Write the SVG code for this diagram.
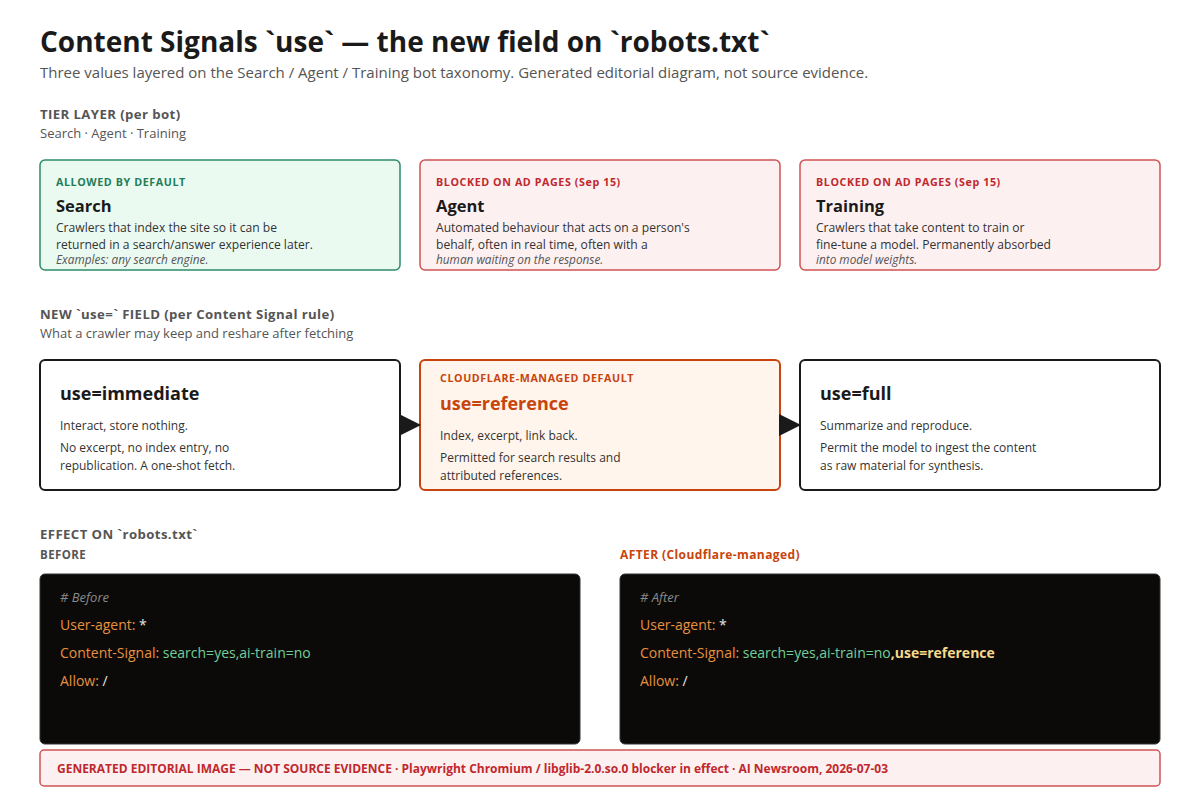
<svg xmlns="http://www.w3.org/2000/svg" width="1200" height="800" viewBox="0 0 1200 800">
<style>
text{font-family:"Open Sans","Noto Sans","Liberation Sans",sans-serif;}
.title{font-size:28px;font-weight:700;fill:#1a1a1a;}
.sub{font-size:15px;fill:#555;}
.sec{font-size:13.2px;font-weight:700;fill:#555;letter-spacing:0.4px;}
.secsub{font-size:13px;fill:#555;}
.lab{font-size:10.7px;font-weight:700;letter-spacing:0.6px;}
.ct{font-size:16.5px;font-weight:700;fill:#1a1a1a;}
.body{font-size:12.1px;fill:#333;}
.ital{font-size:11.8px;font-style:italic;fill:#555;}
.ut{font-size:18px;font-weight:700;fill:#1a1a1a;}
.ub{font-size:12px;fill:#333;}
.code{font-size:14px;fill:#e5e5e5;}
.k{fill:#e8913e;}
.g{fill:#73cf97;}
.y{fill:#f6d98a;font-weight:700;}
.cm{fill:#8a8a8a;font-style:italic;font-size:13px;}
.green{fill:#ebfaf1;stroke:#2e8b6a;stroke-width:1.5;}
.red{fill:#fdf0f1;stroke:#cf5353;stroke-width:1.5;}
.plain{fill:#fff;stroke:#1a1a1a;stroke-width:2;}
.orange{fill:#fff5ec;stroke:#c8440c;stroke-width:2;}
.dark{fill:#0b0a09;stroke:#333;stroke-width:1;}
</style>
<rect width="1200" height="800" fill="#fff"/>
<text class="title" x="40" y="52">Content Signals `use` — the new field on `robots.txt`</text>
<text class="sub" x="40" y="78">Three values layered on the Search / Agent / Training bot taxonomy. Generated editorial diagram, not source evidence.</text>

<text class="sec" x="40" y="119">TIER LAYER (per bot)</text>
<text class="secsub" x="40" y="138">Search · Agent · Training</text>

<g id="tier-search">
<rect class="green" x="40" y="160" width="360" height="110" rx="5"/>
<text class="lab" x="56" y="186" fill="#1f7d57">ALLOWED BY DEFAULT</text>
<text class="ct" x="56" y="212">Search</text>
<text class="body" x="56" y="232">Crawlers that index the site so it can be</text>
<text class="body" x="56" y="249">returned in a search/answer experience later.</text>
<text class="ital" x="56" y="264">Examples: any search engine.</text>
</g>
<g id="tier-agent">
<rect class="red" x="420" y="160" width="360" height="110" rx="5"/>
<text class="lab" x="436" y="186" fill="#c0282d">BLOCKED ON AD PAGES (Sep 15)</text>
<text class="ct" x="436" y="212">Agent</text>
<text class="body" x="436" y="232">Automated behaviour that acts on a person's</text>
<text class="body" x="436" y="249">behalf, often in real time, often with a</text>
<text class="ital" x="436" y="264">human waiting on the response.</text>
</g>
<g id="tier-training">
<rect class="red" x="800" y="160" width="360" height="110" rx="5"/>
<text class="lab" x="816" y="186" fill="#c0282d">BLOCKED ON AD PAGES (Sep 15)</text>
<text class="ct" x="816" y="212">Training</text>
<text class="body" x="816" y="232">Crawlers that take content to train or</text>
<text class="body" x="816" y="249">fine-tune a model. Permanently absorbed</text>
<text class="ital" x="816" y="264">into model weights.</text>
</g>

<text class="sec" x="40" y="319">NEW `use=` FIELD (per Content Signal rule)</text>
<text class="secsub" x="40" y="338">What a crawler may keep and reshare after fetching</text>

<g id="use-immediate">
<rect class="plain" x="40" y="360" width="360" height="130" rx="5"/>
<text class="ut" x="60" y="400">use=immediate</text>
<text class="ub" x="60" y="430">Interact, store nothing.</text>
<text class="ub" x="60" y="452">No excerpt, no index entry, no</text>
<text class="ub" x="60" y="470">republication. A one-shot fetch.</text>
</g>
<g id="use-reference">
<rect class="orange" x="420" y="360" width="360" height="130" rx="5"/>
<text class="lab" x="440" y="382" fill="#c8440c">CLOUDFLARE-MANAGED DEFAULT</text>
<text class="ut" x="440" y="410" style="fill:#c8440c">use=reference</text>
<text class="ub" x="440" y="440">Index, excerpt, link back.</text>
<text class="ub" x="440" y="462">Permitted for search results and</text>
<text class="ub" x="440" y="480">attributed references.</text>
</g>
<g id="use-full">
<rect class="plain" x="800" y="360" width="360" height="130" rx="5"/>
<text class="ut" x="820" y="400">use=full</text>
<text class="ub" x="820" y="430">Summarize and reproduce.</text>
<text class="ub" x="820" y="452">Permit the model to ingest the content</text>
<text class="ub" x="820" y="470">as raw material for synthesis.</text>
</g>

<g id="connectors" fill="#1a1a1a">
<polygon points="399,414 421,425 399,436"/>
<polygon points="779,414 801,425 779,436"/>
</g>

<text class="sec" x="40" y="539">EFFECT ON `robots.txt`</text>
<text class="sec" x="40" y="559" style="font-size:11.5px">BEFORE</text>
<text class="sec" x="620" y="559" style="font-size:12px;fill:#c8440c">AFTER (Cloudflare-managed)</text>

<g id="code-before">
<rect class="dark" x="40" y="574" width="540" height="170" rx="5"/>
<text class="code cm" x="60" y="602"># Before</text>
<text class="code" x="60" y="630"><tspan class="k">User-agent:</tspan> *</text>
<text class="code" x="60" y="658"><tspan class="k">Content-Signal:</tspan> <tspan class="g">search=yes,ai-train=no</tspan></text>
<text class="code" x="60" y="686"><tspan class="k">Allow:</tspan> /</text>
</g>
<g id="code-after">
<rect class="dark" x="620" y="574" width="540" height="170" rx="5"/>
<text class="code cm" x="640" y="602"># After</text>
<text class="code" x="640" y="630"><tspan class="k">User-agent:</tspan> *</text>
<text class="code" x="640" y="658"><tspan class="k">Content-Signal:</tspan> <tspan class="g">search=yes,ai-train=no</tspan><tspan class="y">,use=reference</tspan></text>
<text class="code" x="640" y="686"><tspan class="k">Allow:</tspan> /</text>
</g>

<g id="footer">
<rect class="red" x="40" y="750" width="1120" height="36" rx="4"/>
<text x="57" y="773" style="font-size:12px;font-weight:700;fill:#c0282d" textLength="831" lengthAdjust="spacingAndGlyphs">GENERATED EDITORIAL IMAGE — NOT SOURCE EVIDENCE · Playwright Chromium / libglib-2.0.so.0 blocker in effect · AI Newsroom, 2026-07-03</text>
</g>
</svg>
